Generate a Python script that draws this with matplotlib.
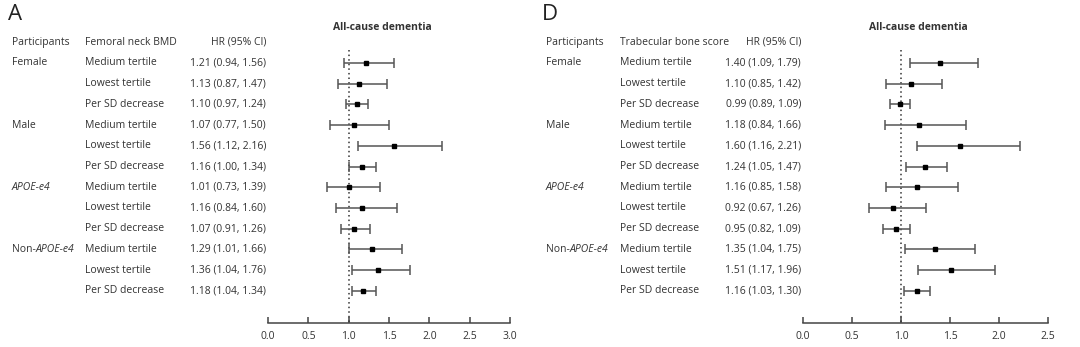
import numpy as np
import matplotlib
matplotlib.use('Agg')
import matplotlib.pyplot as plt
from matplotlib.transforms import blended_transform_factory

plt.rcParams['font.family'] = ['Open Sans', 'DejaVu Sans']

# Data
groups = ['Female', 'Male', 'APOE-e4', 'Non-APOE-e4']
subgroups = ['Medium tertile', 'Lowest tertile', 'Per SD decrease']

hr_a = [1.21, 1.13, 1.10, 1.07, 1.56, 1.16, 1.01, 1.16, 1.07, 1.29, 1.36, 1.18]
lo_a = [0.94, 0.87, 0.97, 0.77, 1.12, 1.00, 0.73, 0.84, 0.91, 1.01, 1.04, 1.04]
hi_a = [1.56, 1.47, 1.24, 1.50, 2.16, 1.34, 1.39, 1.60, 1.26, 1.66, 1.76, 1.34]

hr_d = [1.40, 1.10, 0.99, 1.18, 1.60, 1.24, 1.16, 0.92, 0.95, 1.35, 1.51, 1.16]
lo_d = [1.09, 0.85, 0.89, 0.84, 1.16, 1.05, 0.85, 0.67, 0.82, 1.04, 1.17, 1.03]
hi_d = [1.79, 1.42, 1.09, 1.66, 2.21, 1.47, 1.58, 1.26, 1.09, 1.75, 1.96, 1.30]

xticks_a = [0.0, 0.5, 1.0, 1.5, 2.0, 2.5, 3.0]
xticks_d = [0.0, 0.5, 1.0, 1.5, 2.0, 2.5]

W, H = 1080, 347
fig = plt.figure(figsize=(W / 100, H / 100), dpi=100)

TXT = '#333333'
FS = 7.5


def panel(letter, measure, hr, lo, hi, xticks, x0, x1, px_part, px_sub, px_hr, px_title):
    # axes from pixel 27 (top) to 323 (axis line)
    top, bot = 27, 323
    ax = fig.add_axes([x0 / W, 1 - bot / H, (x1 - x0) / W, (bot - top) / H])
    ax.set_xlim(xticks[0], xticks[-1])
    ax.set_ylim(12.55, -1.73)
    for s in ['top', 'right', 'left']:
        ax.spines[s].set_visible(False)
    ax.spines['bottom'].set_color('#444444')
    ax.spines['bottom'].set_linewidth(1.1)
    ax.set_yticks([])
    ax.set_xticks(xticks)
    ax.set_xticklabels([f'{t:.1f}' for t in xticks])
    ax.tick_params(axis='x', direction='in', length=4, width=1.1, color='#444444',
                   labelsize=FS, labelcolor=TXT, pad=6)
    ax.patch.set_alpha(0)

    # reference line at HR = 1
    ax.plot([1, 1], [-0.62, 12.55], ls=(0, (1, 2)), color='#333333', lw=1.1, clip_on=False)

    y = np.arange(len(hr))
    hr = np.array(hr)
    ax.errorbar(hr, y, xerr=[hr - np.array(lo), np.array(hi) - hr], fmt='s',
                color='black', ms=3.2, ecolor='#555555', elinewidth=1.1, capsize=3.5,
                capthick=1.1, clip_on=False)

    tr = blended_transform_factory(fig.transFigure, ax.transData)
    ax.text(px_part / W, -1.0, 'Participants', transform=tr, fontsize=FS, color=TXT, va='center')
    ax.text(px_sub / W, -1.0, measure, transform=tr, fontsize=FS, color=TXT, va='center')
    ax.text(px_hr / W, -1.0, 'HR (95% CI)', transform=tr, fontsize=FS, color=TXT,
            va='center', ha='right')
    for i in range(len(hr)):
        g, s = divmod(i, 3)
        if s == 0:
            name = groups[g]
            if name == 'APOE-e4':
                ax.text(px_part / W, i, 'APOE-e4', transform=tr, fontsize=FS, color=TXT,
                        va='center', style='italic')
            elif name == 'Non-APOE-e4':
                t = ax.text(px_part / W, i, 'Non-', transform=tr, fontsize=FS, color=TXT,
                            va='center')
                ax.annotate('APOE-e4', xycoords=t, xy=(1, 0.5), va='center',
                            fontsize=FS, color=TXT, style='italic')
            else:
                ax.text(px_part / W, i, name, transform=tr, fontsize=FS, color=TXT, va='center')
        ax.text(px_sub / W, i, subgroups[s], transform=tr, fontsize=FS, color=TXT, va='center')
        ax.text(px_hr / W, i, f'{hr[i]:.2f} ({lo[i]:.2f}, {hi[i]:.2f})', transform=tr,
                fontsize=FS, color=TXT, va='center', ha='right')

    fig.text(px_title / W, 1 - 27 / H, 'All-cause dementia', fontsize=FS, fontweight='bold',
             color=TXT, ha='center', va='center')
    fig.text(px_part / W - 4 / W, 1 - 15 / H, letter, fontsize=16, color='#222222',
             ha='left', va='center')


panel('A', 'Femoral neck BMD', hr_a, lo_a, hi_a, xticks_a, 268, 510, 12, 85, 266, 382)
panel('D', 'Trabecular bone score', hr_d, lo_d, hi_d, xticks_d, 803, 1048, 546, 620, 801, 918)

fig.savefig('out.png', dpi=100, facecolor='white')
